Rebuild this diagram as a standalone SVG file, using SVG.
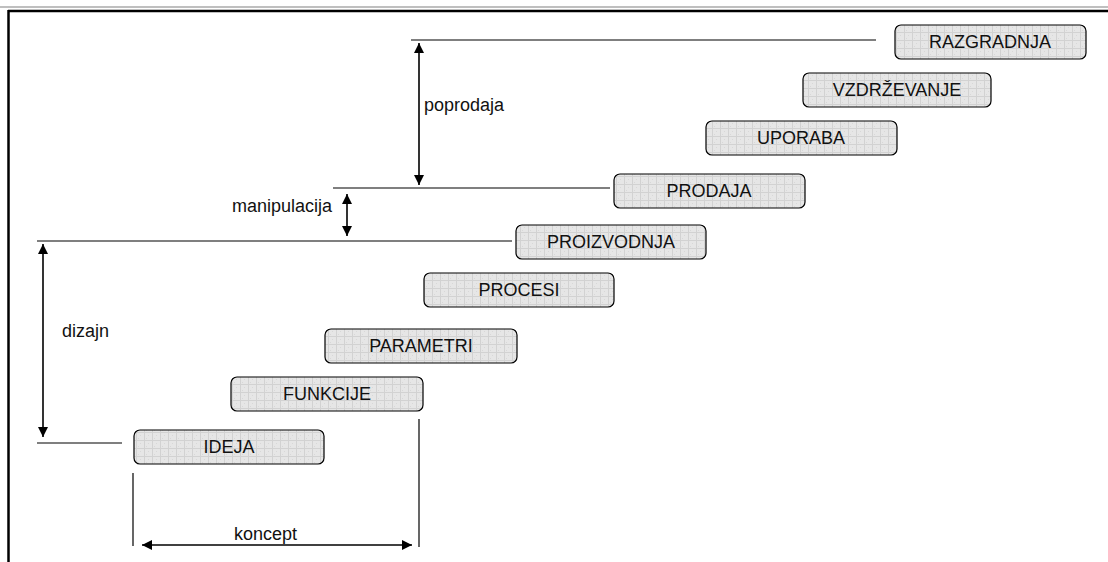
<svg xmlns="http://www.w3.org/2000/svg" width="1108" height="562" viewBox="0 0 1108 562">
  <defs>
    <pattern id="grid" width="8" height="8" patternUnits="userSpaceOnUse">
      <rect width="8" height="8" fill="#e6e6e6"/>
      <path d="M0 0.5H8M0.5 0V8" stroke="#d2d2d2" stroke-width="1"/>
      <rect x="4" y="3" width="1" height="1" fill="#d8d8d8"/>
      <rect x="2" y="6" width="1" height="1" fill="#d8d8d8"/>
    </pattern>
    <marker id="ah" viewBox="0 0 10 10" refX="10" refY="5" markerWidth="10" markerHeight="10" markerUnits="userSpaceOnUse" orient="auto-start-reverse">
      <path d="M0 0L10 5L0 10Z" fill="#000"/>
    </marker>
  </defs>
  <style>
    .box rect { fill: url(#grid); stroke: #000; stroke-width: 1.2; }
    .box text, .lbl { font-family: "Liberation Sans", Arial, sans-serif; font-size: 18px; fill: #111; }
    .box text { text-anchor: middle; }
    .ln { stroke: #000; stroke-width: 1.2; fill: none; }
    .arr { stroke: #000; stroke-width: 1.6; fill: none; marker-start: url(#ah); marker-end: url(#ah); }
  </style>

  <rect width="1108" height="562" fill="#fff"/>
  <!-- page frame -->
  <line x1="0" y1="7" x2="1108" y2="7" stroke="#aaa" stroke-width="1.5"/>
  <line x1="8" y1="11" x2="1108" y2="11" stroke="#000" stroke-width="2.5"/>
  <line x1="8.5" y1="10" x2="8.5" y2="562" stroke="#000" stroke-width="2.5"/>

  <!-- phase boxes -->
  <g id="razgradnja" class="box"><rect x="895" y="25" width="191" height="34" rx="6"/><text x="990" y="48">RAZGRADNJA</text></g>
  <g id="vzdrzevanje" class="box"><rect x="803" y="73" width="188" height="34" rx="6"/><text x="897" y="96">VZDRŽEVANJE</text></g>
  <g id="uporaba" class="box"><rect x="706" y="121" width="191" height="34" rx="6"/><text x="801" y="144">UPORABA</text></g>
  <g id="prodaja" class="box"><rect x="614" y="174" width="191" height="34" rx="6"/><text x="709" y="197">PRODAJA</text></g>
  <g id="proizvodnja" class="box"><rect x="516" y="225" width="190" height="34" rx="6"/><text x="611" y="248">PROIZVODNJA</text></g>
  <g id="procesi" class="box"><rect x="424" y="273" width="190" height="34" rx="6"/><text x="519" y="296">PROCESI</text></g>
  <g id="parametri" class="box"><rect x="325" y="329" width="192" height="34" rx="6"/><text x="421" y="352">PARAMETRI</text></g>
  <g id="funkcije" class="box"><rect x="231" y="377" width="192" height="34" rx="6"/><text x="327" y="400">FUNKCIJE</text></g>
  <g id="ideja" class="box"><rect x="134" y="430" width="190" height="34" rx="6"/><text x="229" y="453">IDEJA</text></g>

  <!-- reference lines and dimension arrows -->
  <g id="connectors">
    <line class="ln" x1="411" y1="40" x2="876" y2="40"/>
    <line class="arr" x1="419" y1="43" x2="419" y2="185"/>
    <line class="ln" x1="333" y1="188" x2="610" y2="188"/>
    <line class="arr" x1="347" y1="194" x2="347" y2="236"/>
    <line class="ln" x1="37" y1="241" x2="512" y2="241"/>
    <line class="arr" x1="43" y1="244" x2="43" y2="437"/>
    <line class="ln" x1="37" y1="443" x2="122" y2="443"/>
    <line class="ln" x1="133" y1="473" x2="133" y2="546"/>
    <line class="ln" x1="419" y1="419" x2="419" y2="547"/>
    <line class="arr" x1="142" y1="545" x2="412" y2="545"/>
  </g>

  <g id="labels">
    <text class="lbl" x="424" y="111">poprodaja</text>
    <text class="lbl" x="232" y="212">manipulacija</text>
    <text class="lbl" x="62" y="337">dizajn</text>
    <text class="lbl" x="234" y="540">koncept</text>
  </g>
</svg>
